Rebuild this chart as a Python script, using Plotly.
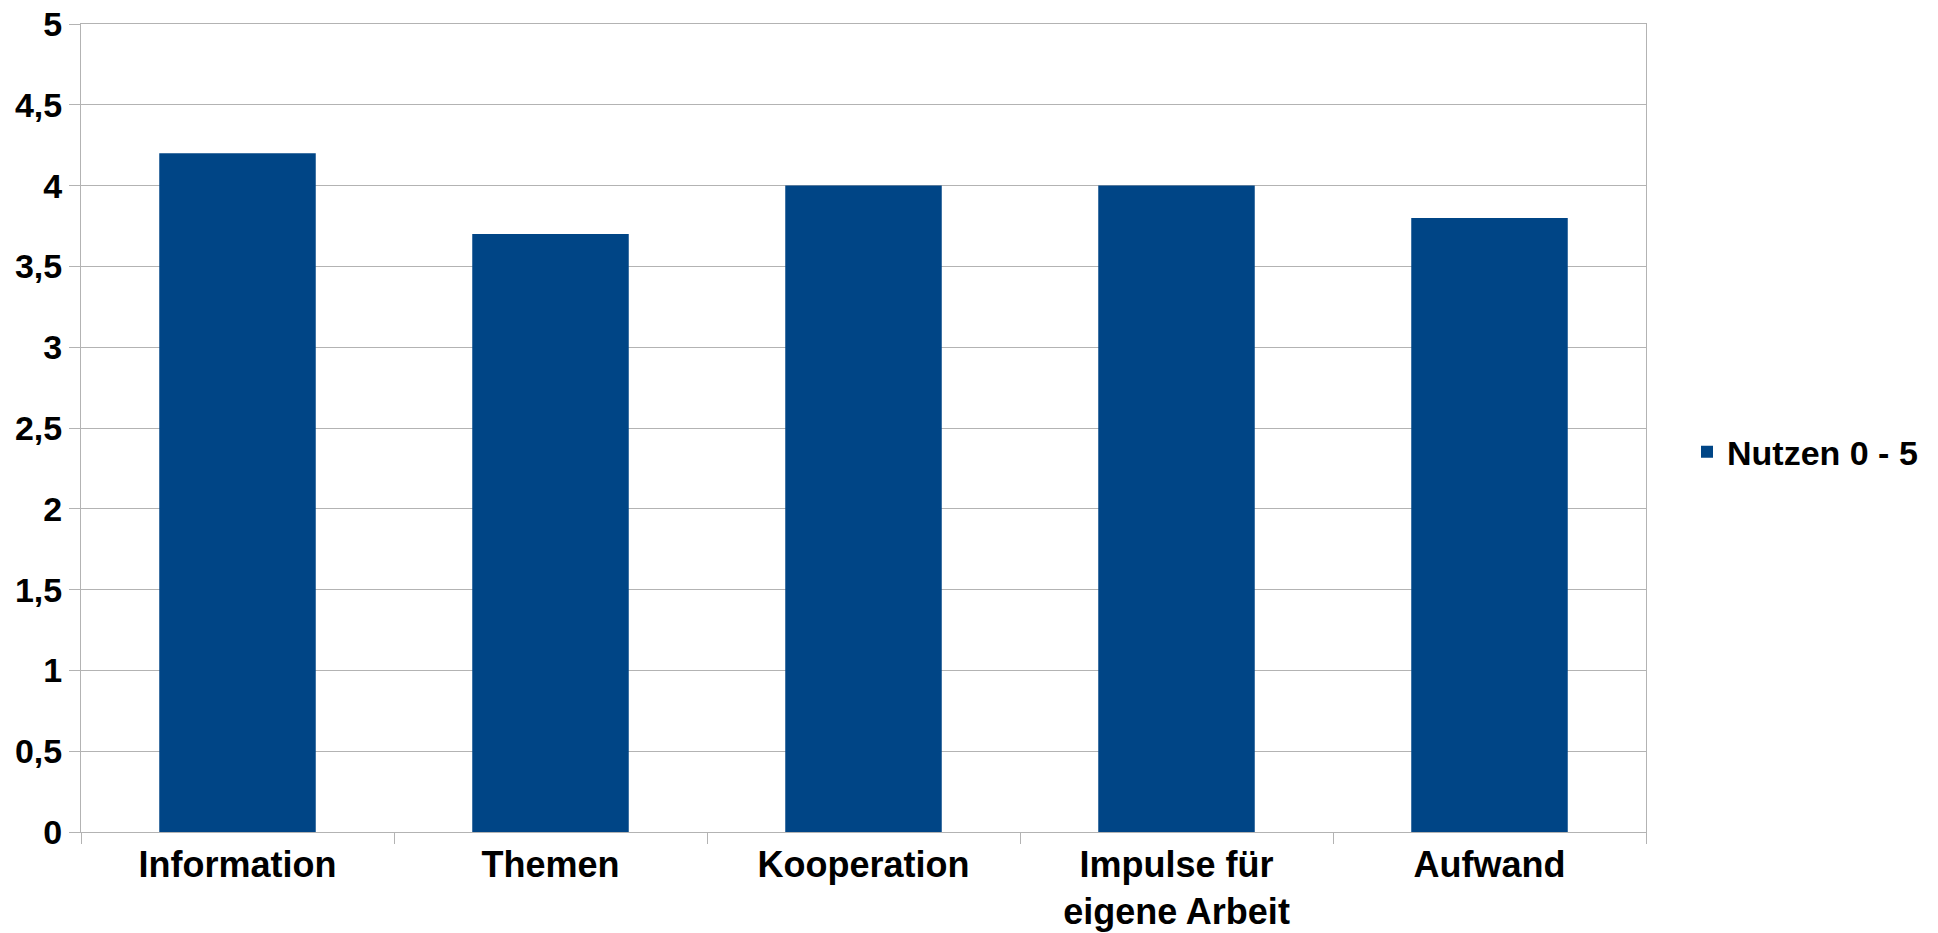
import plotly.graph_objects as go

categories = ["Information", "Themen", "Kooperation", "Impulse für<br>eigene Arbeit", "Aufwand"]
values = [4.2, 3.7, 4.0, 4.0, 3.8]
series_name = "Nutzen 0 - 5"
y_tick_vals = [0, 0.5, 1, 1.5, 2, 2.5, 3, 3.5, 4, 4.5, 5]
y_tick_text = ["0", "0,5", "1", "1,5", "2", "2,5", "3", "3,5", "4", "4,5", "5"]

W, H = 1938, 933
L, R, T, B = 81, 292, 24, 101

fig = go.Figure()
fig.add_trace(go.Bar(x=categories, y=values, name=series_name,
                     marker=dict(color="#004586", line=dict(width=0)),
                     showlegend=True))

font = dict(family="Liberation Sans, Arial, sans-serif", size=34, color="#000000", weight="bold")
xfont = dict(font, size=36)

fig.update_layout(
    width=W, height=H,
    margin=dict(l=L, r=R, t=T, b=B, pad=0, autoexpand=False),
    paper_bgcolor="white", plot_bgcolor="white",
    bargap=0.5,
    font=font,
    showlegend=True,
    legend=dict(x=(1687 - L) / (W - L - R), y=0.47, xanchor="left", yanchor="middle",
                font=font, bgcolor="rgba(0,0,0,0)"),
    xaxis=dict(showgrid=False, showline=True, linecolor="#b3b3b3", linewidth=1,
               mirror=True, ticks="outside", ticklen=11, tickcolor="#b3b3b3",
               tickson="boundaries", tickfont=xfont, ticklabelstandoff=1,
               fixedrange=True, automargin=False),
    yaxis=dict(range=[0, 5], tickvals=y_tick_vals, ticktext=y_tick_text,
               showgrid=True, gridcolor="#b3b3b3", gridwidth=1,
               showline=True, linecolor="#b3b3b3", linewidth=1, mirror=True,
               ticks="outside", ticklen=11, tickcolor="#b3b3b3",
               tickfont=font, zeroline=False, fixedrange=True, automargin=False),
)

fig.write_html("out.html")
